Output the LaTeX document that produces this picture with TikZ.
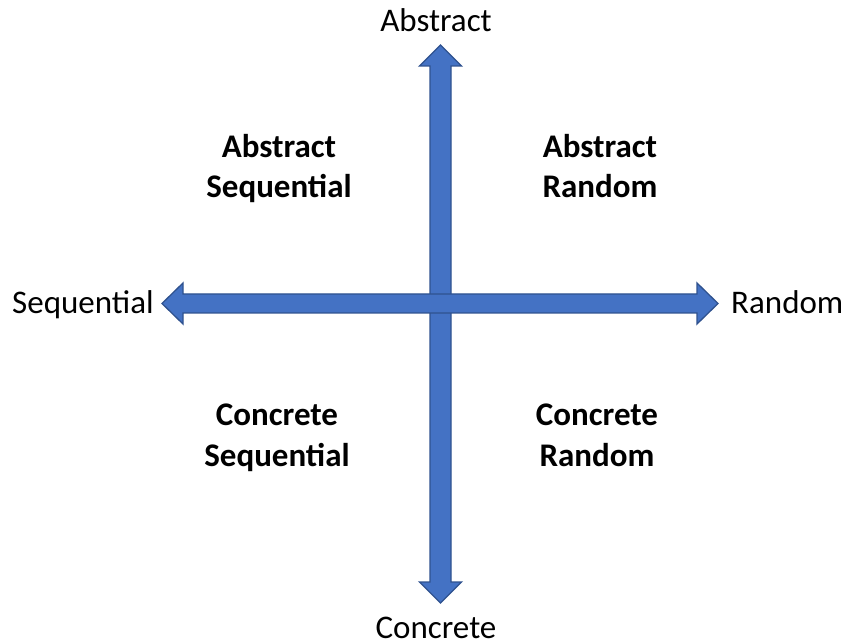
\documentclass[tikz,border=0pt]{standalone}
\usepackage{fontspec}
\setmainfont{Carlito}
\definecolor{arrowfill}{HTML}{4472C4}
\definecolor{arrowline}{HTML}{2F528F}
\begin{document}
\begin{tikzpicture}[x=1pt,y=-1pt,
  arrowshape/.style={fill=arrowfill,draw=arrowline,line width=1.3pt,line join=miter},
  axislabel/.style={font=\fontsize{33}{40}\selectfont,inner sep=0pt,anchor=base},
  quadlabel/.style={font=\fontsize{33}{40}\selectfont\bfseries,inner sep=0pt,anchor=base}]
\useasboundingbox (0,0) rectangle (847,644);
% vertical double arrow
\draw[arrowshape] (440.5,45) -- (461.5,66) -- (451,66) -- (451,582) -- (461.5,582)
  -- (440.5,603) -- (419.5,582) -- (430,582) -- (430,66) -- (419.5,66) -- cycle;
% horizontal double arrow
\draw[arrowshape] (162,303.5) -- (183,283) -- (183,294) -- (697,294) -- (697,283)
  -- (718,303.5) -- (697,324) -- (697,313) -- (183,313) -- (183,324) -- cycle;
% axis labels
\node[axislabel] (abstract) at (436,32) {Abstract};
\node[axislabel] (concrete) at (436,638) {Concrete};
\node[axislabel,anchor=base west] (sequential) at (12,314) {Sequential};
\node[axislabel,anchor=base west] (random) at (731,314) {Random};
% quadrant labels
\node[quadlabel] (as1) at (279,158) {Abstract};
\node[quadlabel] (as2) at (279,198) {Sequential};
\node[quadlabel] (ar1) at (600,158) {Abstract};
\node[quadlabel] (ar2) at (600,198) {Random};
\node[quadlabel] (cs1) at (277,426) {Concrete};
\node[quadlabel] (cs2) at (277,467) {Sequential};
\node[quadlabel] (cr1) at (597,426) {Concrete};
\node[quadlabel] (cr2) at (597,467) {Random};
\end{tikzpicture}
\end{document}
